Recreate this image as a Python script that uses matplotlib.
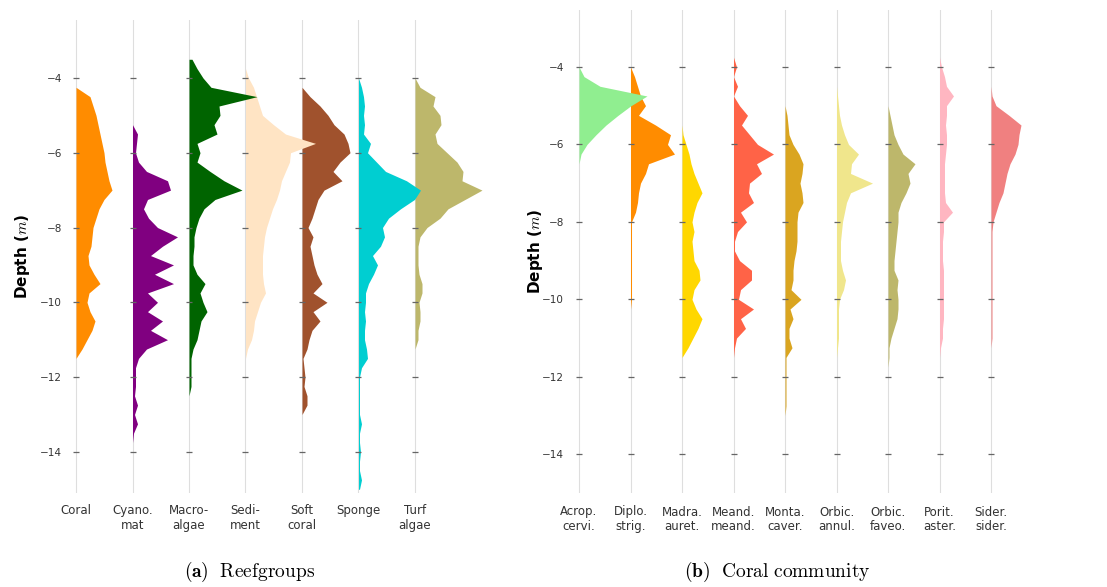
import numpy as np
import matplotlib.pyplot as plt

plt.rcParams['mathtext.fontset'] = 'cm'

# depth grid of the histograms (m), 0.25 m steps
depth = -3.5 - 0.25 * np.arange(47)
depth_ticks = [-4, -6, -8, -10, -12, -14]
tick_labels = ['\u22124', '\u22126', '\u22128', '\u221210', '\u221212', '\u221214']

# (a) reef groups, widths (arbitrary units)
reef_names = ['Coral', 'Cyano.\nmat', 'Macro-\nalgae', 'Sedi-\nment', 'Soft\ncoral', 'Sponge', 'Turf\nalgae']
reef_colors = ['#ff8c00', '#800080', '#006400', '#ffe4c4', '#a0522d', '#00ced1', '#bdb76b']
coral = [0, 0, 0, 0, 14, 17, 20, 22, 24, 26, 28, 29, 31, 33, 36, 28, 23, 20, 17, 16, 15, 12, 13, 18, 24,
         13, 11, 14, 19, 16, 11, 6, 0]
cyano = [0, 0, 0, 0, 0, 0, 0, 0, 5, 4, 3, 6, 14, 35, 38, 15, 11, 16, 25, 45, 30, 18, 41, 22, 41, 15,
         25, 15, 30, 18, 35, 14, 6, 3, 3, 3, 2, 5, 2, 5, 1]
macro = [3, 8, 14, 22, 68, 30, 31, 25, 28, 8, 11, 8, 21, 35, 53, 26, 15, 10, 7, 5, 5, 4, 4, 8, 16, 11,
         14, 18, 12, 10, 8, 4, 2, 2, 2, 2]
sediment = [0, 0, 3, 8, 11, 14, 17, 28, 40, 70, 45, 44, 40, 36, 34, 31, 27, 24, 21, 19, 18, 17, 17, 17,
            18, 20, 15, 12, 9, 8, 6, 2]
soft = [0, 0, 0, 0, 8, 18, 26, 32, 42, 46, 48, 38, 31, 40, 22, 16, 13, 10, 6, 11, 8, 10, 12, 15, 20, 11,
        25, 11, 18, 10, 7, 5, 1, 2, 3, 2, 5, 5]
sponge = [0, 0, 0, 3, 5, 6, 5, 6, 5, 12, 9, 18, 27, 48, 62, 56, 42, 30, 24, 26, 22, 14, 19, 15, 10, 7, 7,
          6, 7, 6, 6, 8, 9, 3, 1, 1, 1, 1, 1, 3, 1, 1, 2, 1, 1, 3, 1]
turf = [0, 0, 0, 5, 20, 18, 25, 26, 20, 22, 32, 42, 48, 47, 67, 50, 33, 25, 12, 5, 3, 3, 3, 4, 7, 7, 4,
        5, 5, 3, 3]
reef_values = [coral, cyano, macro, sediment, soft, sponge, turf]

# (b) coral community
coral_names = ['Acrop.\ncervi.', 'Diplo.\nstrig.', 'Madra.\nauret.', 'Meand.\nmeand.', 'Monta.\ncaver.',
               'Orbic.\nannul.', 'Orbic.\nfaveo.', 'Porit.\naster.', 'Sider.\nsider.']
coral_colors = ['#90ee90', '#ff8c00', '#ffd700', '#ff6347', '#daa520', '#f0e68c', '#bdb76b', '#ffb6c1',
                '#f08080']
acrop = [0, 0, 0, 5, 21, 68, 52, 39, 27, 17, 8, 2]
diplo = [0, 0, 0, 4, 7, 10, 15, 8, 25, 40, 37, 44, 18, 15, 10, 8, 7, 5, 1, 1, 1, 1, 1, 1, 1, 1, 1]
madra = [0, 0, 0, 0, 0, 0, 0, 0, 0, 1, 4, 7, 9, 12, 16, 20, 15, 12, 10, 12, 10, 11, 12, 17, 18, 12, 10,
         14, 20, 16, 11, 6]
meand = [0, 0, 3, 0, 4, 0, 6, 14, 8, 16, 24, 40, 23, 28, 16, 15, 20, 7, 13, 4, 1, 1, 6, 18, 18, 7, 5,
         20, 7, 12, 3, 1]
monta = [0, 0, 0, 0, 0, 0, 0, 2, 3, 4, 8, 14, 18, 17, 15, 17, 18, 13, 12, 12, 12, 11, 9, 8, 8, 6, 16, 5,
         8, 4, 4, 7, 1, 1, 1, 1, 1, 1]
annul = [0, 0, 0, 0, 0, 1, 2, 3, 5, 8, 12, 22, 15, 14, 36, 14, 10, 8, 6, 5, 4, 4, 4, 6, 9, 7, 3, 2, 2, 2,
         2, 1]
faveo = [0, 0, 0, 0, 0, 0, 0, 2, 4, 6, 10, 15, 27, 20, 22, 18, 13, 10, 10, 9, 8, 7, 6, 6, 10, 9, 10, 10,
         9, 6, 3, 1, 1]
porit = [0, 0, 2, 5, 7, 14, 7, 7, 6, 7, 7, 6, 5, 5, 5, 5, 6, 13, 4, 4, 3, 3, 3, 4, 4, 4, 4, 4, 4, 3, 3, 1]
sider = [0, 0, 0, 0, 0, 1, 5, 18, 30, 28, 27, 24, 19, 16, 14, 12, 8, 5, 2, 1, 1, 1, 1, 1, 1, 1, 1, 1, 1,
         1, 1]
coral_values = [acrop, diplo, madra, meand, monta, annul, faveo, porit, sider]


def pad(v):
    return np.r_[np.asarray(v, float), np.zeros(len(depth) - len(v))]


def draw(ax, names, colors, values, slot, xlim, ylim, label_x, label_pad, label_size):
    n = len(names)
    for i, (c, v) in enumerate(zip(colors, values)):
        ax.axvline(i, color='#dedede', lw=0.8, zorder=0)
        ax.fill_betweenx(depth, i, i + pad(v) / slot, color=c, lw=0, zorder=n - i + 1)
        ax.plot([i] * len(depth_ticks), depth_ticks, ls='none', marker='_', ms=5, mew=0.9,
                color='#666666', zorder=n + 3)
    ax.set_xlim(*xlim)
    ax.set_ylim(*ylim)
    ax.set_yticks(depth_ticks)
    ax.set_yticklabels(tick_labels)
    ax.set_xticks(range(n))
    ax.set_xticklabels(names, linespacing=1.15)
    ax.tick_params(axis='y', length=0, pad=3, labelsize=7.5, labelcolor='#333333')
    ax.tick_params(axis='x', length=0, pad=label_pad, labelsize=label_size, labelcolor='#333333')
    for s in ax.spines.values():
        s.set_visible(False)
    ax.set_ylabel('Depth ($m$)', fontweight='bold', fontsize=11)
    ax.yaxis.set_label_coords(label_x, 0.5)


fig = plt.figure(figsize=(11.07, 5.87), dpi=100)

ax_a = fig.add_axes([66 / 1107, 1 - 493 / 587, 434 / 1107, 473 / 587])
draw(ax_a, reef_names, reef_colors, reef_values, 56.5, (-10 / 56.5, 434 / 56.5 - 10 / 56.5),
     (-15.1, -2.45), -0.078, 8, 8.5)

ax_b = fig.add_axes([568 / 1107, 1 - 493 / 587, 462 / 1107, 483 / 587])
draw(ax_b, coral_names, coral_colors, coral_values, 51.5, (-11 / 51.5, 451 / 51.5),
     (-15.0, -2.53), -0.05, 9, 8.5)

fig.text(250 / 1107, 1 - 572 / 587, r'$(\mathbf{a})\ \ \mathrm{Reefgroups}$', ha='center', va='center',
         fontsize=14)
fig.text(777 / 1107, 1 - 572 / 587, r'$(\mathbf{b})\ \ \mathrm{Coral\ community}$', ha='center',
         va='center', fontsize=14)

fig.savefig('out.png', dpi=100)
